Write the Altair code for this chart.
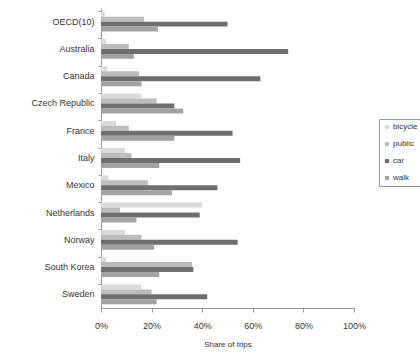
import altair as alt
import pandas as pd

countries = ["OECD(10)", "Australia", "Canada", "Czech Republic", "France", "Italy",
             "Mexico", "Netherlands", "Norway", "South Korea", "Sweden"]
modes = ["bicycle", "public", "car", "walk"]
bicycle = [1.5, 2.0, 2.5, 16.0, 6.0, 9.5, 3.0, 40.0, 9.5, 2.0, 16.0]
public = [17.0, 11.0, 15.0, 22.0, 11.0, 12.0, 18.5, 7.5, 16.0, 36.0, 20.0]
car = [50.0, 74.0, 63.0, 29.0, 52.0, 55.0, 46.0, 39.0, 54.0, 36.5, 42.0]
walk = [22.5, 13.0, 16.0, 32.5, 29.0, 23.0, 28.0, 14.0, 21.0, 23.0, 22.0]
colors = ["#dadada", "#bcbcbc", "#6e6e6e", "#a2a2a2"]

rows = []
for i, c in enumerate(countries):
    for m, vals in zip(modes, [bicycle, public, car, walk]):
        rows.append({"country": c, "mode": m, "share": vals[i] / 100.0})
df = pd.DataFrame(rows)

font = "Liberation Sans"

chart = alt.Chart(df).mark_bar().encode(
    y=alt.Y("country:N", sort=countries, title=None,
            scale=alt.Scale(paddingInner=0.27, paddingOuter=0.135),
            axis=alt.Axis(labelFont=font, labelFontSize=9, labelColor="#333333",
                          domainColor="#999999", ticks=True, tickColor="#999999",
                          tickSize=3, bandPosition=0, labelPadding=4)),
    yOffset=alt.YOffset("mode:N", sort=modes, scale=alt.Scale(paddingInner=0, paddingOuter=0)),
    x=alt.X("share:Q", title="Share of trips",
            scale=alt.Scale(domain=[0, 1], nice=False),
            axis=alt.Axis(format=".0%", values=[0, 0.2, 0.4, 0.6, 0.8, 1.0], grid=False,
                          labelFlush=False,
                          labelFont=font, labelFontSize=9, labelColor="#333333",
                          titleFont=font, titleFontSize=8, titleFontWeight="normal",
                          titleColor="#333333", domainColor="#999999", tickColor="#999999",
                          tickSize=4, labelPadding=9, titlePadding=10)),
    color=alt.Color("mode:N", sort=modes,
                    scale=alt.Scale(domain=modes, range=colors),
                    legend=alt.Legend(title=None, orient="none", legendX=278, legendY=111,
                                      strokeColor="#999999", fillColor="white", padding=4,
                                      symbolType="square", symbolSize=16, symbolStrokeWidth=0,
                                      labelFont=font, labelFontSize=8, labelColor="#333333",
                                      rowPadding=9, labelOffset=2)),
).properties(
    width=253, height=300,
    background="white",
    autosize=alt.AutoSizeParams(type="none"),
    padding={"left": 101, "top": 8, "right": 66, "bottom": 44},
).configure_view(stroke=None)

chart.save("out.html", embed_options={"renderer": "svg", "actions": False})
